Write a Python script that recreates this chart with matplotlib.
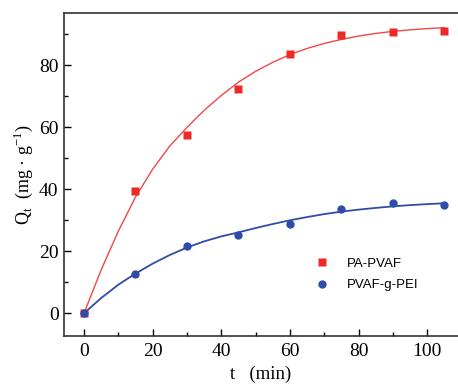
import matplotlib
matplotlib.use("Agg")
import matplotlib.pyplot as plt
from matplotlib.ticker import MultipleLocator

# measured points
t = [0, 15, 30, 45, 60, 75, 90, 105]
q_pa = [0, 39.5, 57.5, 72.5, 83.6, 89.8, 90.7, 91.0]
q_pei = [0, 12.7, 21.7, 25.2, 28.9, 33.7, 35.7, 35.0]

# fitted curves
t_fit = [0, 5, 10, 15, 20, 25, 30, 35, 40, 45, 50, 55, 60, 65, 70, 75, 80, 85, 90, 95, 100, 105]
fit_pa = [0, 14, 26.5, 37.5, 46.5, 54, 60, 65.5, 70.3, 74.6, 78.1, 81, 83.5, 85.5, 87.1, 88.4,
          89.5, 90.35, 91.0, 91.5, 91.9, 92.2]
fit_pei = [0, 4.9, 9.2, 12.8, 16.0, 18.8, 21.2, 23.2, 24.8, 26.1, 27.5, 28.8, 30.0, 31.05, 32.0,
           32.8, 33.45, 34.0, 34.5, 34.9, 35.23, 35.5]

red = "#EE2A26"
blue = "#2F4CA8"

plt.rcParams["mathtext.fontset"] = "custom"
plt.rcParams["mathtext.rm"] = "Liberation Serif"

fig = plt.figure(figsize=(4.58, 3.86), dpi=100)
ax = fig.add_axes([0.14, 0.13, 0.86, 0.836])

ax.plot(t_fit, fit_pa, color="#F04848", lw=1.0, zorder=2)
ax.plot(t_fit, fit_pei, color=blue, lw=1.3, zorder=2)
ax.plot(t, q_pa, "s", color=red, ms=5.3, mec="none", label="PA-PVAF", zorder=3)
ax.plot(t, q_pei, "o", color=blue, ms=6, mec="none", label="PVAF-g-PEI", zorder=3)

ax.set_xlim(-5.8, 109)
ax.set_ylim(-7.3, 96.9)
ax.xaxis.set_major_locator(MultipleLocator(20))
ax.xaxis.set_minor_locator(MultipleLocator(10))
ax.yaxis.set_major_locator(MultipleLocator(20))
ax.yaxis.set_minor_locator(MultipleLocator(10))
ax.tick_params(which="both", direction="in", width=1.0, top=False, right=False)
ax.tick_params(which="major", length=5, labelsize=14)
ax.tick_params(axis="y", which="major", pad=4)
ax.tick_params(axis="x", which="major", pad=5)
ax.tick_params(which="minor", length=3)
for lab in ax.get_xticklabels() + ax.get_yticklabels():
    lab.set_family("Liberation Serif")
ax.spines["right"].set_visible(False)
for s in ["left", "bottom", "top"]:
    ax.spines[s].set_linewidth(1.2)
    ax.spines[s].set_color("#333333")

ax.set_xlabel("t   (min)", family="Liberation Serif", fontsize=13.5, labelpad=4)
ax.set_ylabel("Q$_\\mathregular{t}$  (mg · g$^\\mathregular{-1}$)", family="Liberation Serif",
              fontsize=13, labelpad=3)

ax.legend(loc="center left", bbox_to_anchor=(0.605, 0.19), frameon=False,
          prop={"family": "Liberation Sans", "size": 9.5}, handletextpad=1.3,
          labelspacing=0.7, handlelength=1.2)

fig.savefig("out.png", dpi=100)
